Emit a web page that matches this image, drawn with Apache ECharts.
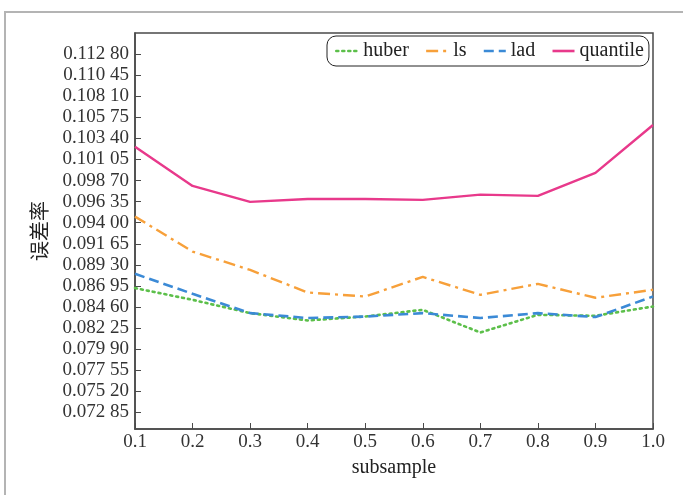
<!DOCTYPE html>
<html>
<head>
<meta charset="utf-8">
<script src="https://cdn.jsdelivr.net/npm/echarts@6/dist/echarts.min.js"></script>
<style>
html, body { margin: 0; padding: 0; background: #fff; }
#main { width: 683px; height: 495px; }
</style>
</head>
<body>
<div id="main"></div>
<script>
// x: subsample ratio
var subsample = [0.1, 0.2, 0.3, 0.4, 0.5, 0.6, 0.7, 0.8, 0.9, 1.0];

// error rate per loss function
var huber    = [0.08671, 0.08540, 0.08392, 0.08310, 0.08354, 0.08429, 0.08176, 0.08373, 0.08362, 0.08466];
var ls       = [0.09468, 0.09078, 0.08874, 0.08622, 0.08577, 0.08796, 0.08596, 0.08718, 0.08563, 0.08652];
var lad      = [0.08830, 0.08607, 0.08392, 0.08337, 0.08354, 0.08392, 0.08337, 0.08392, 0.08348, 0.08577];
var quantile = [0.10248, 0.09810, 0.09632, 0.09665, 0.09665, 0.09654, 0.09713, 0.09699, 0.09955, 0.10489];

// y tick values as printed on the figure
var yTicks = [0.07285, 0.07520, 0.07755, 0.07990, 0.08225, 0.08460, 0.08695, 0.08930, 0.09165,
              0.09400, 0.09635, 0.09870, 0.10105, 0.10340, 0.10575, 0.10810, 0.11045, 0.11280];

function pairs(ys) {
    return subsample.map(function (x, i) { return [x, ys[i]]; });
}

var serif = '"Liberation Serif", "DejaVu Serif", serif';
var axisColor = '#4a4a4a';

var chart = echarts.init(document.getElementById('main'));

var option = {
    animation: false,
    backgroundColor: '#fff',
    graphic: [{
        type: 'rect',
        shape: { x: 5, y: 12, width: 720, height: 520 },
        style: { fill: 'none', stroke: '#b4b4b4', lineWidth: 2 },
        silent: true
    }],
    grid: {
        left: 135, right: 30, top: 33, bottom: 66,
        show: true, borderColor: axisColor, borderWidth: 1.5
    },
    legend: {
        left: 327, top: 36,
        padding: [5, 5, 5, 8],
        itemGap: 16, itemWidth: 22, itemHeight: 10,
        borderColor: '#222', borderWidth: 1, borderRadius: 9,
        itemStyle: { opacity: 0 },
        lineStyle: { width: 2.6 },
        textStyle: { fontFamily: serif, fontSize: 20, color: '#222' },
        data: ['huber', 'ls', 'lad', 'quantile']
    },
    xAxis: {
        type: 'value',
        min: 0.1, max: 1.0, interval: 0.1,
        name: 'subsample', nameLocation: 'middle', nameGap: 29,
        nameTextStyle: { fontFamily: serif, fontSize: 20, color: '#222' },
        axisLine: { lineStyle: { color: axisColor, width: 1.5 } },
        axisTick: { inside: true, length: 6, lineStyle: { color: axisColor } },
        axisLabel: {
            fontFamily: serif, fontSize: 19, color: '#333', margin: 4,
            formatter: function (v) { return v.toFixed(1); }
        },
        splitLine: { show: false }
    },
    yAxis: {
        type: 'value',
        min: 0.0710, max: 0.11515,
        name: '误差率', nameLocation: 'middle', nameGap: 86,
        nameTextStyle: { fontFamily: '"Noto Sans CJK SC"', fontSize: 20, color: '#222' },
        axisLine: { lineStyle: { color: axisColor, width: 1.5 } },
        axisTick: { inside: true, length: 6, customValues: yTicks, lineStyle: { color: axisColor } },
        axisLabel: {
            fontFamily: serif, fontSize: 19, color: '#333', margin: 6,
            customValues: yTicks,
            formatter: function (v) {
                var s = v.toFixed(5);
                return s.slice(0, 5) + ' ' + s.slice(5);
            }
        },
        splitLine: { show: false }
    },
    series: [
        {
            name: 'huber', type: 'line', symbol: 'none', data: pairs(huber),
            lineStyle: { color: '#5cbf4a', width: 2.6, type: [2, 4], cap: 'round' },
            itemStyle: { color: '#5cbf4a' }
        },
        {
            name: 'ls', type: 'line', symbol: 'none', data: pairs(ls),
            lineStyle: { color: '#f7a03a', width: 2.4, type: [12, 5, 3, 5] },
            itemStyle: { color: '#f7a03a' }
        },
        {
            name: 'lad', type: 'line', symbol: 'none', data: pairs(lad),
            lineStyle: { color: '#3b8ad6', width: 2.6, type: [10, 5] },
            itemStyle: { color: '#3b8ad6' }
        },
        {
            name: 'quantile', type: 'line', symbol: 'none', data: pairs(quantile),
            lineStyle: { color: '#e8398b', width: 2.4 },
            itemStyle: { color: '#e8398b' }
        }
    ]
};

chart.setOption(option);
</script>
</body>
</html>
